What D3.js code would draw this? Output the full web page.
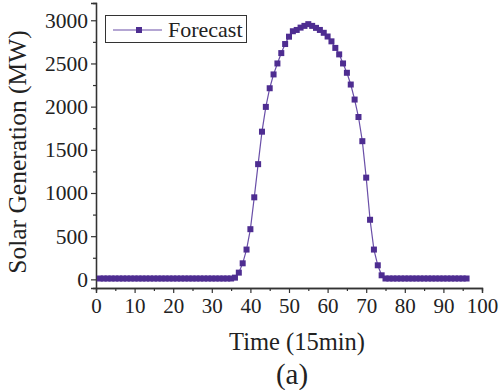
<!DOCTYPE html>
<html>
<head>
<meta charset="utf-8">
<script src="https://cdn.jsdelivr.net/npm/d3@7"></script>
<style>
html,body{margin:0;padding:0;background:#fff;}
svg{display:block;}
text{font-family:"Liberation Serif","Times New Roman",serif;fill:#222;}
</style>
</head>
<body>
<svg id="chart" width="499" height="390"></svg>
<script>
// ---- data ----
const timeSteps = d3.range(1, 97);
const forecastValues = [
  10,10,10,10,10,10,10,10,10,10,
  10,10,10,10,10,10,10,10,10,10,
  10,10,10,10,10,10,10,10,10,10,
  10,10,10,10,10,20,78,186,345,581,
  950,1334,1710,1997,2213,2373,2500,2620,2725,2810,
  2873,2888,2915,2935,2955,2935,2912,2888,2855,2812,
  2756,2680,2605,2500,2392,2256,2082,1880,1600,1178,
  690,345,163,47,10,10,10,10,10,10,
  10,10,10,10,10,10,10,10,10,10,
  10,10,10,10,10,10
];
const xTicks = [0,10,20,30,40,50,60,70,80,90,100];
const yTicks = [0,500,1000,1500,2000,2500,3000];
const seriesName = "Forecast";

// ---- layout ----
const svg = d3.select("#chart");
const color = "#4e2d91";
const lineColor = "#6a4fa8";
const x = d3.scaleLinear().domain([0, 100]).range([96, 482]);
const y = d3.scaleLinear().domain([-100, 3200]).range([288, 3]);
const data = timeSteps.map((t, i) => ({t, v: forecastValues[i]}));

// axes
const xAxis = d3.axisBottom(x).tickValues(xTicks).tickSize(5).tickPadding(4).tickFormat(d3.format("d"));
const xMinor = d3.axisBottom(x).tickValues(d3.range(5, 100, 10)).tickSize(3).tickFormat("");
const yAxis = d3.axisLeft(y).tickValues(yTicks).tickSize(5).tickPadding(3).tickFormat(d3.format("d"));
const yMinor = d3.axisLeft(y).tickValues(d3.range(250, 3200, 500)).tickSize(3).tickFormat("");

const gx = svg.append("g").attr("transform", "translate(0,288)");
gx.call(xAxis);
svg.append("g").attr("transform", "translate(0,288)").call(xMinor);
const gy = svg.append("g").attr("transform", "translate(96,0)");
gy.call(yAxis);
svg.append("g").attr("transform", "translate(96,0)").call(yMinor);

svg.selectAll("g").attr("font-family", null);
svg.selectAll(".domain").attr("stroke", "#333").attr("stroke-width", 1.3);
svg.selectAll(".tick line").attr("stroke", "#333").attr("stroke-width", 1.2);
gx.selectAll(".tick text").attr("font-size", 21).attr("fill", "#222").attr("dy", "0.78em");
gy.selectAll(".tick text").attr("font-size", 21.5).attr("fill", "#222");

// line + markers
svg.append("path").datum(data)
  .attr("fill", "none").attr("stroke", lineColor).attr("stroke-width", 1.2)
  .attr("d", d3.line().x(d => x(d.t)).y(d => y(d.v)));
const ms = 6;
svg.append("g").selectAll("rect").data(data).join("rect")
  .attr("x", d => x(d.t) - ms/2).attr("y", d => y(d.v) - ms/2)
  .attr("width", ms).attr("height", ms).attr("fill", color);

// titles
svg.append("text").attr("x", 297).attr("y", 350).attr("text-anchor", "middle")
  .attr("font-size", 24.5).text("Time (15min)");
svg.append("text").attr("transform", "translate(26,152) rotate(-90)").attr("text-anchor", "middle")
  .attr("font-size", 25.5).text("Solar Generation (MW)");
svg.append("text").attr("x", 292).attr("y", 384).attr("text-anchor", "middle")
  .attr("font-size", 29).text("(a)");

// legend
const lg = svg.append("g");
lg.append("rect").attr("x", 105.5).attr("y", 15.5).attr("width", 141).attr("height", 27)
  .attr("fill", "#fff").attr("stroke", "#333").attr("stroke-width", 1);
lg.append("line").attr("x1", 113).attr("x2", 162).attr("y1", 30).attr("y2", 30)
  .attr("stroke", lineColor).attr("stroke-width", 1.2);
lg.append("rect").attr("x", 139 - ms/2).attr("y", 30 - ms/2).attr("width", ms).attr("height", ms).attr("fill", color);
lg.append("text").attr("x", 168).attr("y", 37).attr("font-size", 22).text(seriesName);
</script>
</body>
</html>
